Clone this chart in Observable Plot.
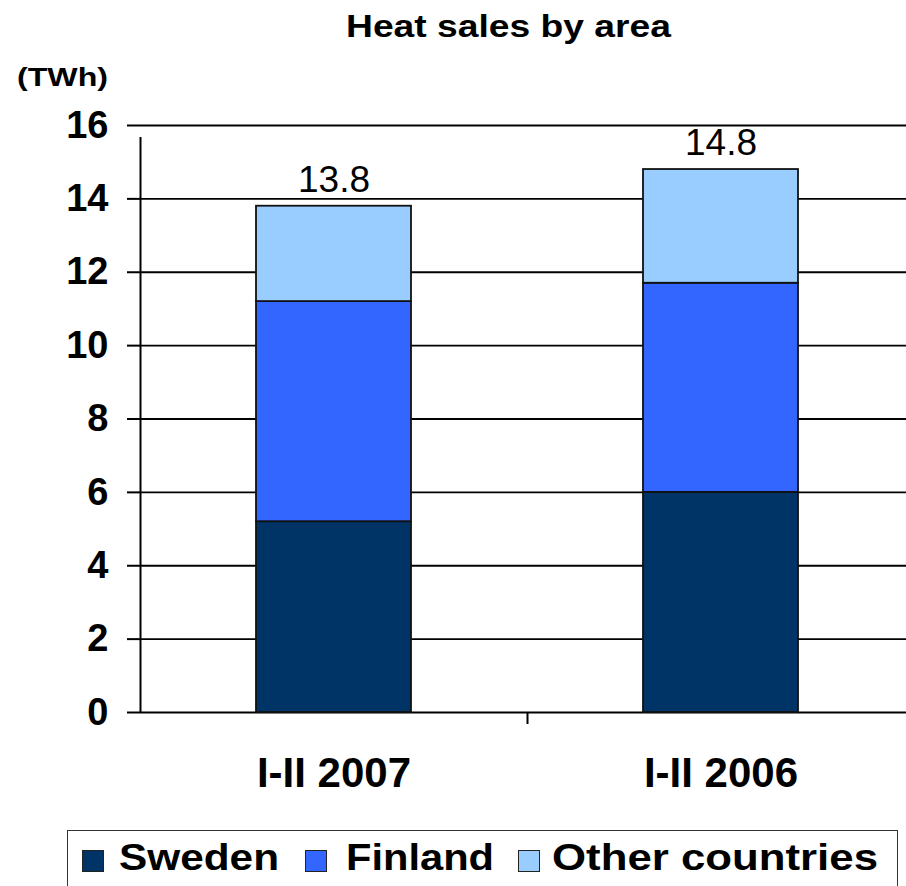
<!DOCTYPE html>
<html>
<head>
<meta charset="utf-8">
<script src="https://cdn.jsdelivr.net/npm/d3@7"></script>
<script src="https://cdn.jsdelivr.net/npm/@observablehq/plot@0.6"></script>
<style>
  html, body { margin: 0; padding: 0; background: #fff; }
  #wrap { position: relative; width: 906px; height: 886px; overflow: hidden; font-family: "Liberation Sans", Arial, sans-serif; color: #000; }
  #wrap svg { position: absolute; left: 0; top: 0; }
  .abs { position: absolute; white-space: nowrap; line-height: 1; font-weight: bold; transform-origin: 0 0; }
  .box { position: absolute; border: 1.5px solid #333; box-sizing: border-box; }
  .sw { position: absolute; border: 1.5px solid #222; box-sizing: border-box; }
</style>
</head>
<body>
<div id="wrap"></div>
<script>
// ---- data ----
const periods = ["I-II 2007", "I-II 2006"];
const areas = ["Sweden", "Finland", "Other countries"];
const sweden = [5.2, 6.0];
const finland = [6.0, 5.7];
const other = [2.6, 3.1];
const totals = [13.8, 14.8];
const totalLabels = ["13.8", "14.8"];
const yTicks = [0, 2, 4, 6, 8, 10, 12, 14, 16];
const colors = ["#003366", "#3366FF", "#99CCFF"];
const titleText = "Heat sales by area";
const unitText = "(TWh)";

const series = [sweden, finland, other];
const rows = [];
periods.forEach((p, i) => areas.forEach((a, j) => rows.push({period: p, area: a, value: series[j][i]})));

const W = 906, H = 886;
const step = (914 - 140) / periods.length;

const chart = Plot.plot({
  width: W,
  height: H,
  marginLeft: 140,
  marginRight: 0,
  marginTop: 125,
  marginBottom: H - 712,
  style: {fontFamily: "'Liberation Sans', Arial, sans-serif", background: "#fff", color: "#000"},
  x: {domain: periods, range: [140, 914], paddingInner: 0.6, paddingOuter: 0.3, label: null},
  y: {domain: [0, 16], label: null},
  color: {domain: areas, range: colors},
  marks: [
    Plot.ruleY(yTicks, {stroke: "#000", strokeWidth: 1.8}),
    Plot.barY(rows, {x: "period", y: "value", fill: "area", stroke: "#111", strokeWidth: 1.8}),
    Plot.ruleX([periods[0]], {dx: -step / 2, y1: 0, y2: 16, insetBottom: -12, stroke: "#000", strokeWidth: 2}),
    Plot.ruleX([periods[1]], {dx: -step / 2, y1: 0, y2: 0, insetBottom: -12, stroke: "#000", strokeWidth: 2}),
    Plot.axisY({ticks: yTicks, tickFormat: d => String(d), tickSize: 13, tickPadding: 19, strokeWidth: 2, fontSize: 38, fontWeight: "bold", label: null}),
    Plot.axisX({tickSize: 0, tickPadding: 45, fontSize: 42, fontWeight: "bold", label: null}),
    Plot.text(periods, {x: d => d, y: (d, i) => totals[i], text: (d, i) => totalLabels[i], dy: -26, lineAnchor: "middle", fontSize: 37})
  ]
});

const wrap = document.getElementById("wrap");
wrap.appendChild(chart);

function addText(txt, size, left, baseline, targetWidth) {
  const s = document.createElement("span");
  s.className = "abs";
  s.textContent = txt;
  s.style.fontSize = size + "px";
  s.style.left = left + "px";
  s.style.top = (baseline - 0.8465 * size) + "px";
  wrap.appendChild(s);
  const w = s.getBoundingClientRect().width;
  if (targetWidth && w > 0) s.style.transform = `scaleX(${targetWidth / w})`;
  return s;
}

addText(titleText, 31, 346, 37, 325);
addText(unitText, 26.5, 17, 86, 91);

// legend
const box = document.createElement("div");
box.className = "box";
Object.assign(box.style, {left: "67px", top: "830px", width: "831px", height: "80px"});
wrap.appendChild(box);

const legendItems = [
  {sw: 82, tx: 119, tw: 160},
  {sw: 305, tx: 346, tw: 148},
  {sw: 518, tx: 552, tw: 326}
];
areas.forEach((a, i) => {
  const sw = document.createElement("div");
  sw.className = "sw";
  Object.assign(sw.style, {left: legendItems[i].sw + "px", top: "850px", width: "22px", height: "22px", background: colors[i]});
  wrap.appendChild(sw);
  addText(a, 36, legendItems[i].tx, 870, legendItems[i].tw);
});
</script>
</body>
</html>
